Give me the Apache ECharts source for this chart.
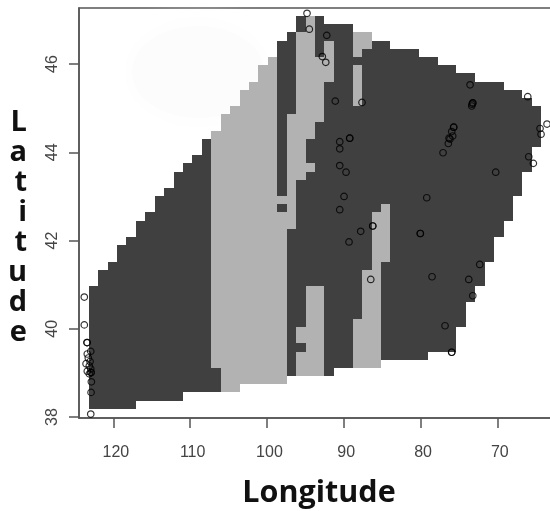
<!DOCTYPE html>
<html>
<head>
<meta charset="utf-8">
<style>html,body{margin:0;padding:0;background:#fff}#c{width:550px;height:511px}</style>
<script src="https://cdn.jsdelivr.net/npm/echarts@6/dist/echarts.min.js"></script>
</head>
<body>
<div id="c"></div>
<script>
// Grid of the classified surface: column/row index to longitude/latitude
const lonOrigin = 123.2, lonStep = -1.2277;
const latOrigin = 38.188, latStep = 0.1854;

// [column, first row, row after last]
const darkRuns = [
 [0,0,15],[1,0,17],[2,0,18],[3,0,20],[4,0,21],[5,1,23],[6,1,24],[7,1,26],[8,1,27],[9,1,29],
 [10,2,30],[11,2,31],[12,2,33],[13,2,5],[20,24,25],[20,26,45],[21,4,22],[21,36,46],
 [22,7,8],[22,10,28],[22,46,48],[23,15,29],[23,30,33],[24,15,35],[24,43,48],
 [25,4,40],[25,45,47],[26,5,47],[27,5,47],[28,11,37],[28,42,43],[29,17,44],[30,24,45],
 [31,6,18],[31,25,45],[32,6,44],[33,6,44],[34,6,44],[35,6,43],[36,7,43],[37,7,42],[38,7,42],
 [39,10,41],[40,13,41],[41,15,40],[42,18,40],[43,21,40],[44,23,39],[45,26,39],[46,29,38],[47,32,37]
];
const lightRuns = [
 [13,5,34],[14,2,36],[15,2,37],[16,3,39],[17,3,40],[18,3,42],[19,3,43],[20,3,24],[20,25,26],
 [21,22,36],[22,4,7],[22,8,10],[22,28,46],[23,4,15],[23,29,30],[23,33,48],[24,4,15],[24,35,43],
 [25,40,45],[28,5,11],[28,37,42],[28,43,46],[29,5,17],[29,44,46],[30,5,24],[31,18,25]
];

// Sample sites
const siteLon = [94.78,94.48,92.21,92.79,92.34,91.1,87.62,90.52,90.52,89.22,89.22,90.52,89.7,89.96,90.52,
 79.19,77.07,76.38,76.29,76.16,75.81,75.94,75.68,75.68,73.55,73.33,73.2,73.2,73.29,66.04,64.44,63.53,64.31,65.91,65.31,70.21,
 87.79,89.31,86.22,86.22,80.03,80.03,78.5,86.48,72.29,73.72,73.2,76.81,75.94,75.94,
 123.78,123.78,122.94,123.42,123.42,122.94,123.39,123.26,123.03,123.55,123.13,123.39,122.94,122.9,122.9,123.13,122.86,122.9];
const siteLat = [47.15,46.79,46.65,46.17,46.04,45.16,45.13,44.24,44.08,44.32,44.32,43.7,43.55,43.0,42.7,
 42.97,43.99,44.2,44.32,44.3,44.37,44.47,44.57,44.57,45.53,45.05,45.12,45.12,45.09,45.26,44.54,44.64,44.41,43.9,43.75,43.55,
 42.21,41.97,42.33,42.33,42.16,42.16,41.18,41.12,41.46,41.12,40.75,40.07,39.47,39.47,
 40.72,40.09,38.07,39.69,39.69,39.49,39.43,39.34,39.26,39.21,39.16,39.04,39.09,39.01,39.01,38.98,38.8,38.56];

const lonTicks = [120,110,100,90,80,70];
const latTicks = [38,40,42,44,46];
const xName = 'Longitude';
const yName = '\nL\na\nt\ni\nt\nu\nd\ne';

const toRect = r => [lonOrigin + r[0]*lonStep, lonOrigin + (r[0]+1)*lonStep, latOrigin + r[1]*latStep, latOrigin + r[2]*latStep];
const renderCell = color => (params, api) => {
  const a = api.coord([api.value(0), api.value(2)]);
  const b = api.coord([api.value(1), api.value(3)]);
  const x0 = Math.round(a[0]), x1 = Math.round(b[0]), y0 = Math.round(a[1]), y1 = Math.round(b[1]);
  return {type:'rect', shape:{x:x0, y:y1, width:x1-x0, height:y0-y1}, style:{fill:color}};
};
const surface = (name, runs, color) => ({
  name, type:'custom', data:runs.map(toRect), encode:{x:[0,1], y:[2,3]},
  renderItem:renderCell(color), clip:true, silent:true, z:2
});

const axisColor = '#555';
const chart = echarts.init(document.getElementById('c'), null, {renderer:'canvas'});
chart.setOption({
  animation:false,
  backgroundColor:'#fff',
  graphic:[{type:'ellipse', silent:true, z:0, shape:{cx:198, cy:72, rx:66, ry:46},
    style:{fill:'#fcfcfc', shadowColor:'#fcfcfc', shadowBlur:30}}],
  grid:{left:79, top:8, width:480, height:410, outerBoundsMode:'none', show:true, borderColor:axisColor, borderWidth:1.5, backgroundColor:'transparent'},
  xAxis:{
    type:'value', inverse:true, min:61.97, max:124.47,
    splitLine:{show:false},
    axisLine:{show:true, lineStyle:{color:axisColor, width:1.5}},
    axisTick:{show:true, length:10, customValues:lonTicks, lineStyle:{color:axisColor, width:1.5}},
    axisLabel:{show:true, customValues:lonTicks, color:'#444', fontFamily:'Liberation Sans', fontSize:16, margin:27, padding:[0,0,0,5]},
    name:xName, nameLocation:'middle', nameGap:60,
    nameTextStyle:{fontFamily:'Open Sans', fontWeight:'bold', fontSize:30.5, color:'#111'}
  },
  yAxis:{
    type:'value', min:37.98, max:47.27,
    splitLine:{show:false},
    axisLine:{show:true, lineStyle:{color:axisColor, width:1.5}},
    axisTick:{show:true, length:10, customValues:latTicks, lineStyle:{color:axisColor, width:1.5}},
    axisLabel:{show:true, customValues:latTicks, rotate:90, color:'#444', fontFamily:'Liberation Sans', fontSize:16, margin:18},
    name:yName, nameLocation:'middle', nameGap:52, nameRotate:0,
    nameTextStyle:{fontFamily:'Open Sans', fontWeight:'bold', fontSize:29, lineHeight:30, color:'#111'}
  },
  series:[
    surface('Class A', darkRuns, '#404040'),
    surface('Class B', lightRuns, '#b2b2b2'),
    {name:'Sites', type:'scatter', data:siteLon.map((v,i)=>[v,siteLat[i]]), symbol:'circle', symbolSize:6.5,
     itemStyle:{color:'rgba(0,0,0,0)', borderColor:'#000', borderWidth:1.2}, clip:false, silent:true, z:5}
  ]
});
</script>
</body>
</html>
